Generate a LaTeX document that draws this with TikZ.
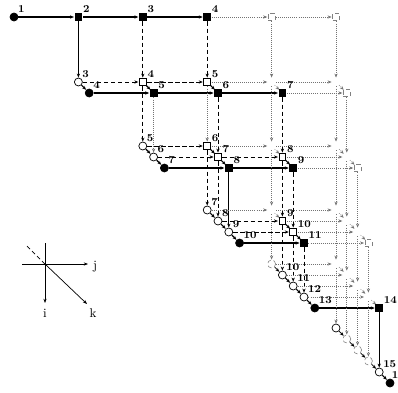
\documentclass[tikz,border=0pt]{standalone}
\usetikzlibrary{arrows.meta}

\tikzset{
  lattice/.style={circle, minimum size=2.1mm, inner sep=0pt},
  circmark/.style={circle, minimum size=2mm, inner sep=0pt},
  sqmark/.style={rectangle, minimum size=1.7mm, inner sep=0pt},
  nF/.style={draw, fill=black, line width=0.5pt},
  nO/.style={draw, fill=white, line width=0.5pt},
  nD/.style={draw=gray, densely dashed, fill=white, line width=0.4pt},
  lab/.style={font=\fontsize{7.5}{8}\selectfont\bfseries, inner sep=0.5pt},
  faint/.style={draw=black!55, densely dotted, line width=0.45pt, -{Stealth[length=2.8pt, width=2.3pt]}},
  esolid/.style={draw=black, solid, line width=0.8pt},
  edashed/.style={draw=black, densely dashed, line width=0.5pt},
  axis/.style={line width=0.5pt},
  axlab/.style={font=\small, inner sep=1pt},
}

% edges that are not faint: h = along j, v = along i, d = along k
\tikzset{
  h 1-1-0/.style=esolid, h 1-2-0/.style=esolid, h 1-3-0/.style=esolid,
  h 2-2-1/.style=esolid, h 2-3-1/.style=esolid, h 2-4-1/.style=esolid,
  h 3-3-2/.style=esolid, h 3-4-2/.style=esolid, h 4-4-3/.style=esolid,
  h 5-5-4/.style=esolid,
  h 2-2-0/.style=edashed, h 2-3-0/.style=edashed, h 3-3-0/.style=edashed,
  h 3-3-1/.style=edashed, h 3-4-1/.style=edashed, h 4-4-1/.style=edashed,
  h 4-4-2/.style=edashed,
  v 1-2-0/.style=esolid, v 3-4-2/.style=esolid, v 5-6-4/.style=esolid,
  v 1-3-0/.style=edashed, v 1-4-0/.style=edashed, v 2-3-0/.style=edashed,
  v 2-4-1/.style=edashed, v 2-5-1/.style=edashed, v 3-4-0/.style=edashed,
  v 3-4-1/.style=edashed, v 3-5-1/.style=edashed, v 3-5-2/.style=edashed,
  v 4-5-1/.style=edashed, v 4-5-2/.style=edashed, v 4-5-3/.style=edashed,
  d 2-2-0/.style=esolid, d 2-3-0/.style=esolid, d 2-4-0/.style=esolid,
  d 3-3-0/.style=esolid, d 3-3-1/.style=esolid, d 3-4-0/.style=esolid,
  d 3-4-1/.style=esolid, d 3-5-1/.style=esolid, d 4-4-0/.style=esolid,
  d 4-4-1/.style=esolid, d 4-4-2/.style=esolid, d 4-5-1/.style=esolid,
  d 4-5-2/.style=esolid, d 5-5-1/.style=esolid, d 5-5-2/.style=esolid,
  d 5-5-3/.style=esolid, d 6-6-4/.style=esolid,
  d 5-5-0/.style=edashed, d 6-6-0/.style=edashed, d 6-6-1/.style=edashed,
  d 6-6-2/.style=edashed, d 6-6-3/.style=edashed,
}

\begin{document}
\begin{tikzpicture}[x=0.25mm, y=-0.25mm]
    \path[fill=white, use as bounding box] (0,0) rectangle (398,392);

    % lattice points
    \foreach \i in {1,...,6} {
        \pgfmathsetmacro\yy{{17,82,146,210,264,328}[\i-1]}
        \pgfmathtruncatemacro\km{\i-1}
        \foreach \j in {\i,...,6} {
            \foreach \k in {0,...,\km} {
                \node[lattice] (n-\i-\j-\k) at ({14+(\j-1)*64.4+\k*10.8}, {\yy+\k*11}) {};
            }
        }
    }

    % dependences
    \foreach \i in {1,...,6} {
        \pgfmathtruncatemacro\km{\i-1}
        \pgfmathtruncatemacro\inx{\i+1}
        \foreach \j in {\i,...,6} {
            \pgfmathtruncatemacro\jn{\j+1}
            \foreach \k in {0,...,\km} {
                \pgfmathtruncatemacro\kn{\k+1}
                \ifnum\j<6 \draw[faint, h \i-\j-\k/.try] (n-\i-\j-\k) -- (n-\i-\jn-\k); \fi
                \ifnum\i<\j \draw[faint, v \i-\j-\k/.try] (n-\i-\j-\k) -- (n-\inx-\j-\k); \fi
                \ifnum\k<\km \draw[faint, d \i-\j-\k/.try] (n-\i-\j-\k) -- (n-\i-\j-\kn); \fi
            }
        }
    }

    % computed points with their time step
    \foreach \i/\j/\k/\t/\l in {1/1/0/nF/1, 1/2/0/nF/2, 1/3/0/nF/3, 1/4/0/nF/4,
            2/2/0/nO/3, 2/2/1/nF/4, 2/3/0/nO/4, 2/3/1/nF/5, 2/4/0/nO/5, 2/4/1/nF/6, 2/5/1/nF/7,
            3/3/0/nO/5, 3/3/1/nO/6, 3/3/2/nF/7, 3/4/0/nO/6, 3/4/1/nO/7, 3/4/2/nF/8,
            3/5/1/nO/8, 3/5/2/nF/9,
            4/4/0/nO/7, 4/4/1/nO/8, 4/4/2/nO/9, 4/4/3/nF/10, 4/5/1/nO/9, 4/5/2/nO/10, 4/5/3/nF/11,
            5/5/1/nO/10, 5/5/2/nO/11, 5/5/3/nO/12, 5/5/4/nF/13, 5/6/4/nF/14,
            6/6/4/nO/15} {
        \ifnum\i=\j \def\shp{circmark}\else\def\shp{sqmark}\fi
        \node[\shp, \t, label={[lab]north east:\l}] (m-\i-\j-\k) at (n-\i-\j-\k) {};
    }
    \node[circmark, nF, label={[lab, xshift=-1.6pt]north east:1}] (m-6-6-5) at (n-6-6-5) {};
    % points without a label
    \foreach \i/\j/\k/\t in {1/5/0/nD, 1/6/0/nD, 2/6/1/nD, 3/6/2/nD, 4/6/3/nD,
            5/5/0/nD, 6/6/0/nO, 6/6/1/nD, 6/6/2/nD, 6/6/3/nD} {
        \ifnum\i=\j \def\shp{circmark}\else\def\shp{sqmark}\fi
        \node[\shp, \t] (m-\i-\j-\k) at (n-\i-\j-\k) {};
    }

    % axes
    \coordinate (ax) at (45,264);
    \coordinate (ax-w) at (22,264);
    \coordinate (ax-e) at (88,264);
    \coordinate (ax-n) at (45,243);
    \coordinate (ax-s) at (45,303);
    \coordinate (ax-nw) at (27,246);
    \coordinate (ax-se) at (87,304);
    \node[axlab] (lab-j) at (95,267) {j};
    \node[axlab] (lab-i) at (45,313) {i};
    \node[axlab] (lab-k) at (93,313) {k};
    \draw[axis, -{Stealth[length=3pt]}] (ax-w) -- (ax-e);
    \draw[axis, -{Stealth[length=3pt]}] (ax-n) -- (ax-s);
    \draw[axis, -{Stealth[length=3pt]}] (ax) -- (ax-se);
    \draw[axis, densely dashed] (ax) -- (ax-nw);
\end{tikzpicture}
\end{document}
